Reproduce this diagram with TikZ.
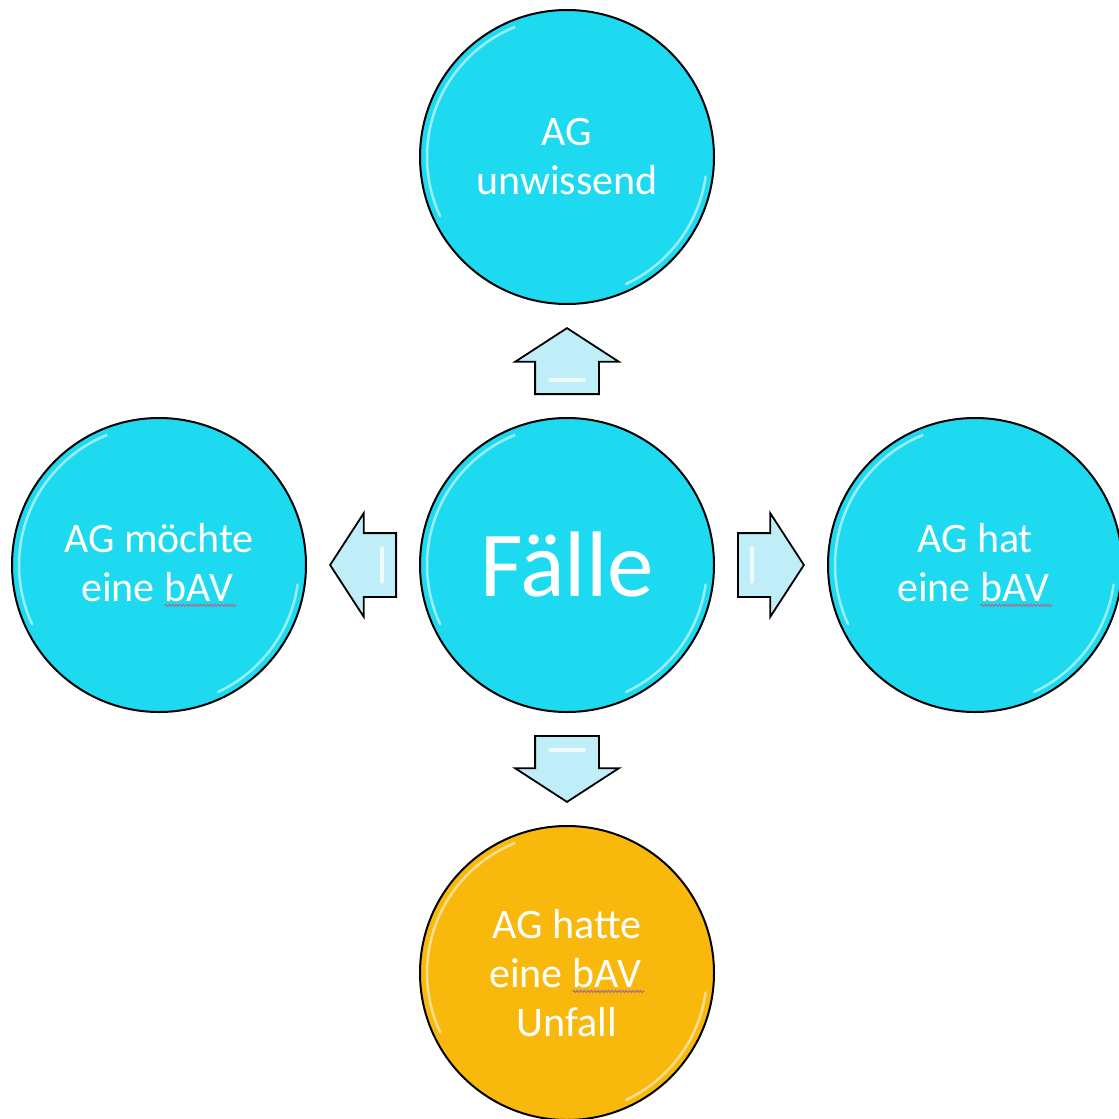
\documentclass[tikz,border=0pt]{standalone}
\usepackage{fontspec}
\setmainfont{Carlito}
\usetikzlibrary{shapes.arrows, calc, decorations.pathmorphing}

\definecolor{kreisblau}{RGB}{30,218,241}
\definecolor{kreisgelb}{RGB}{249,184,12}
\definecolor{pfeilblau}{RGB}{192,238,248}
\definecolor{wellenrot}{RGB}{166,110,140}

\newcommand{\bav}{\tikz[baseline=(w.base)]{%
\node (w) [rectangle, draw=none, fill=none, path picture={}, inner sep=0pt, minimum size=0pt, text=white] {bAV};
\draw[wellenrot, line width=1pt, opacity=1, decorate, decoration={snake, amplitude=1.1pt, segment length=3.5pt}]
([yshift=-4pt]w.base west) -- ([yshift=-4pt, xshift=3pt]w.base east);}}

\tikzstyle{fallkreis} = [circle,
draw=black, line width=2pt,
fill=kreisblau,
minimum size=294pt,
inner sep=0pt,
text=white, align=center,
font=\fontsize{42}{49}\selectfont,
path picture={
\draw[white, opacity=0.55, line width=2.5pt, line cap=round]
([shift={(112:140pt)}]path picture bounding box.center) arc[start angle=112, end angle=205, radius=140pt];
\draw[white, opacity=0.55, line width=2.5pt, line cap=round]
([shift={(-8:140pt)}]path picture bounding box.center) arc[start angle=-8, end angle=-65, radius=140pt];
}]
\tikzstyle{blockpfeil} = [single arrow,
draw=black, line width=1.8pt,
fill=pfeilblau,
minimum height=66pt,
inner xsep=0pt, inner ysep=31pt,
single arrow head extend=20pt,
single arrow tip angle=114]
\tikzstyle{glanzstrich} = [white, opacity=0.75, line width=3.5pt, line cap=round]

\begin{document}
\begin{tikzpicture}[node distance=408pt, x=1pt, y=1pt]
\useasboundingbox (0,0) rectangle (1119,-1119);

\node (faelle) [fallkreis, font=\fontsize{93}{100}\selectfont] at (567,-565) {Fälle};

\node (oben) [fallkreis, above of=faelle] {AG\\ unwissend};
\node (links) [fallkreis, left of=faelle] {AG möchte\\ eine \bav};
\node (rechts) [fallkreis, right of=faelle] {AG hat\\ eine \bav};
\node (unten) [fallkreis, fill=kreisgelb, below of=faelle] {AG hatte\\ eine \bav\\ Unfall};

\node (pfeiloben) [blockpfeil, rotate=90, anchor=tail] at ([yshift=22pt]faelle.north) {};
\node (pfeillinks) [blockpfeil, rotate=180, anchor=tail] at ([xshift=-22pt]faelle.west) {};
\node (pfeilrechts) [blockpfeil, anchor=tail] at ([xshift=22pt]faelle.east) {};
\node (pfeilunten) [blockpfeil, rotate=-90, anchor=tail] at ([yshift=-22pt]faelle.south) {};

\foreach \p in {pfeiloben, pfeillinks, pfeilrechts, pfeilunten}
  \draw [glanzstrich] ($(\p.tail)!0.22!(\p.tip)!17pt!90:(\p.tip)$) -- ($(\p.tail)!0.22!(\p.tip)!17pt!-90:(\p.tip)$);

\end{tikzpicture}
\end{document}
